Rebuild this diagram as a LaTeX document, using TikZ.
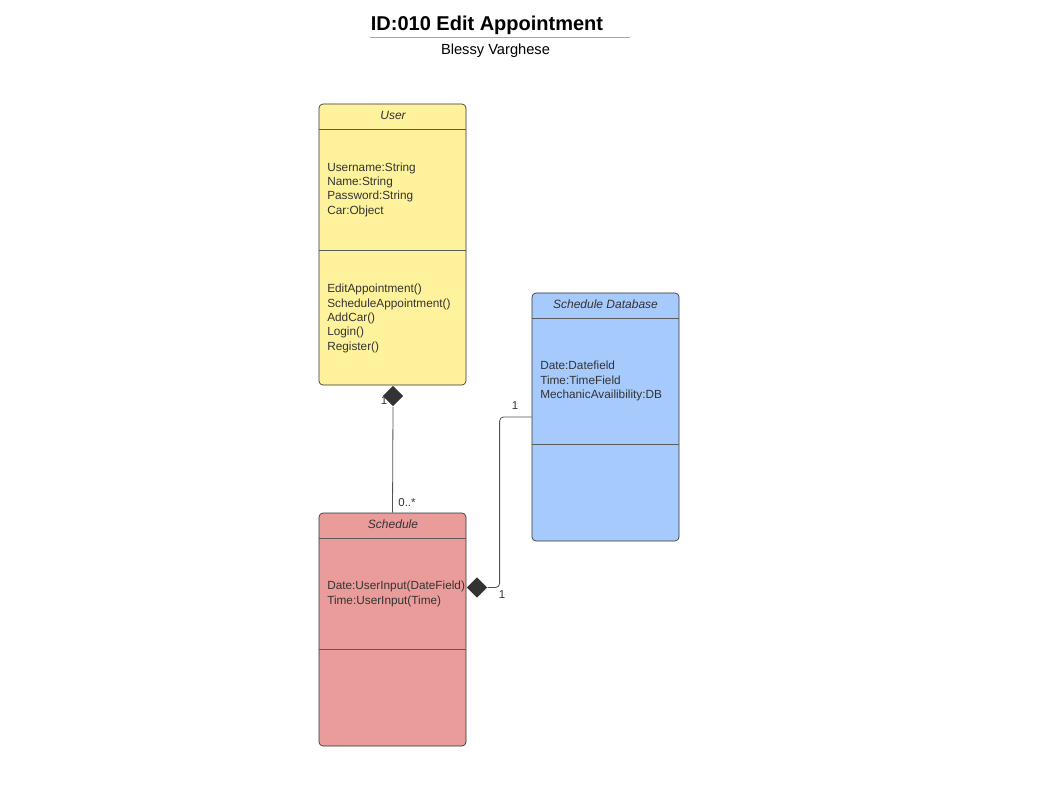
\documentclass[tikz,border=0pt]{standalone}
\usepackage{fontspec}
\setmainfont{Liberation Sans}
\usepackage{xcolor}
\usetikzlibrary{positioning,shapes.geometric}
\definecolor{userfill}{HTML}{FFF29C}
\definecolor{dbfill}{HTML}{A6CAFC}
\definecolor{schedfill}{HTML}{EA9C9B}
\definecolor{linegray}{HTML}{333333}
\definecolor{textgray}{HTML}{333333}

\begin{document}
\begin{tikzpicture}[x=0.75pt,y=-0.75pt]
		\tikzstyle{class_style} = [draw=linegray,line width=0.5pt,rounded corners=3pt,inner sep=0pt]
		\tikzstyle{divider_style} = [draw=linegray!80,line width=0.6pt]
		\tikzstyle{head_style} = [font=\fontsize{9}{10}\selectfont\itshape,text=textgray]
		\tikzstyle{attr_style} = [font=\fontsize{8.85}{10.75}\selectfont,text=textgray,align=left,anchor=west,inner sep=0pt]
		\tikzstyle{edge_style} = [draw=linegray!85,line width=0.6pt]
		\tikzstyle{diamond_style} = [diamond,fill=linegray,inner sep=0pt,minimum width=15.5pt,minimum height=15.5pt]
		\tikzstyle{mult_style} = [font=\fontsize{8.6}{10}\selectfont,text=textgray,inner sep=0pt]
		\useasboundingbox (0,0) rectangle (1055,791);
		% title
		\node[font=\fontsize{15}{17}\selectfont\bfseries] (title) at (487,25) {ID:010 Edit Appointment};
		\node[font=\fontsize{11}{13}\selectfont] (author) at (495.5,50.5) {Blessy Varghese};
		\draw[draw=gray!70,line width=0.6pt] (370,37) -- (630,37);
		% classes
		\node[class_style,fill=userfill,minimum width=110.25pt,minimum height=210.75pt] (user) at (392.5,244.5) {};
		\node[class_style,fill=dbfill,minimum width=110.25pt,minimum height=186pt] (db) at (605.5,417) {};
		\node[class_style,fill=schedfill,minimum width=110.25pt,minimum height=174.75pt] (schedule) at (392.5,629.5) {};
		\draw[divider_style] (319,129) -- (466,129);
		\draw[divider_style] (319,250) -- (466,250);
		\draw[divider_style] (532,318) -- (679,318);
		\draw[divider_style] (532,444) -- (679,444);
		\draw[divider_style] (319,538) -- (466,538);
		\draw[divider_style] (319,649) -- (466,649);
		% headers
		\node[head_style] (user_head) at (393,115) {User};
		\node[head_style] (db_head) at (605.5,304) {Schedule Database};
		\node[head_style] (schedule_head) at (393,524) {Schedule};
		% members
		\node[attr_style] (user_attr) at (327,189.5) {Username:String\\Name:String\\Password:String\\Car:Object};
		\node[attr_style] (user_ops) at (327,318.5) {EditAppointment()\\ScheduleAppointment()\\AddCar()\\Login()\\Register()};
		\node[attr_style] (db_attr) at (540,381) {Date:Datefield\\Time:TimeField\\MechanicAvailibility:DB};
		\node[attr_style] (schedule_attr) at (327,594) {Date:UserInput(DateField)\\Time:UserInput(Time)};
		% associations
		\node[mult_style] (m1) at (384,401) {1};
		\node[mult_style] (m2) at (407,503) {0..*};
		\node[mult_style] (m3) at (515,406) {1};
		\node[mult_style] (m4) at (502,595) {1};
		\node[diamond_style] (d1) at (393,396) {};
		\node[diamond_style] (d2) at (477,587.5) {};
		\draw[edge_style] (d1.south) -- (schedule.north);
		\draw[edge_style,rounded corners=3pt] (d2.east) -- ++(12,0) |- (db.west);
\end{tikzpicture}
\end{document}
